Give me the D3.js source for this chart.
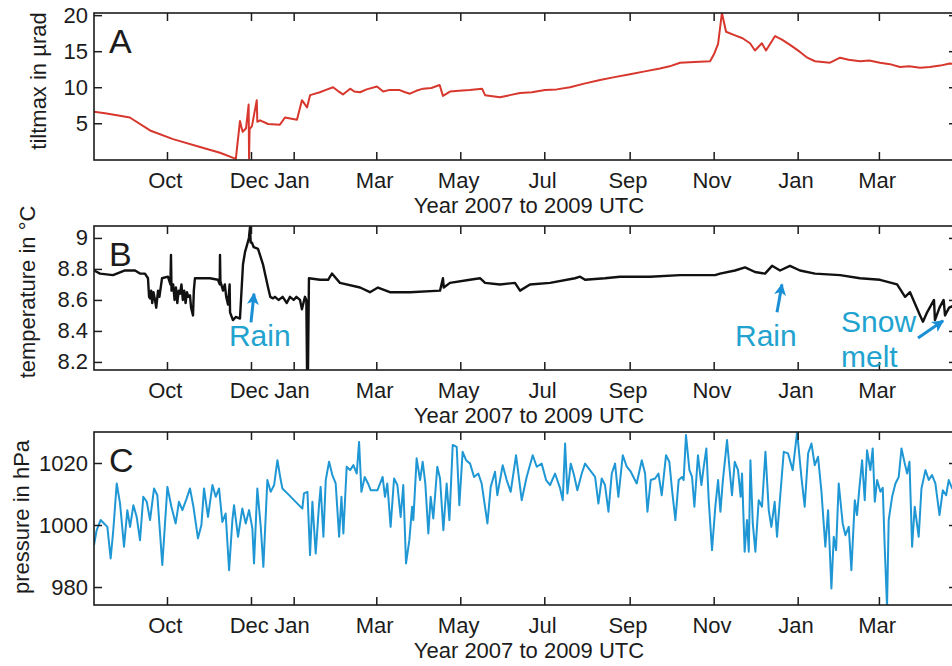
<!DOCTYPE html>
<html>
<head>
<meta charset="utf-8">
<script src="https://cdn.jsdelivr.net/npm/d3@7"></script>
<style>
  body { margin: 0; background: #fff; }
  text { font-family: "Liberation Sans", Arial, Helvetica, sans-serif; }
</style>
</head>
<body>
<svg id="chart" width="952" height="666"></svg>
<script>
// time axis: records are given in days since 2007-08-09 (UTC)
const startDate = Date.UTC(2007, 7, 9);
const endDate = Date.UTC(2009, 3, 26, 17);
const monthTicks = ["2007-10-01", "2007-12-01", "2008-01-01", "2008-03-01", "2008-05-01",
  "2008-07-01", "2008-09-01", "2008-11-01", "2009-01-01", "2009-03-01"];
const xTitle = "Year 2007 to 2009 UTC";

// A: tilt
const tiltDay = [0, 8, 16.7, 26, 40.7, 57.4, 77, 91.5, 103, 106, 107, 108, 110.4, 112.3, 112.6, 113,
  114.7, 118.2, 118.6, 120.6, 126.4, 135, 138.7, 147.4, 151, 154.7, 156.9, 164, 168, 173.6, 177, 180.8, 186,
  189, 193.2, 198, 205.5, 210, 214, 222, 226, 229.5, 234, 239, 245, 251, 253.4, 258.5, 265, 273, 281.8, 284,
  294.8, 302, 309.4, 318, 327.5, 336, 345.7, 356, 367.5, 378, 389.3, 400, 411, 418, 425.6, 436, 447.4,
  450.3, 453.2, 456, 459, 465.5, 471, 476.4, 480, 485, 488, 494.6, 499.6, 506, 512.7, 518, 523.6, 534.5,
  541.8, 548, 556.3, 563, 570.8, 578, 585.3, 592, 599.9, 607, 614.4, 621.6, 626];
const tiltValue = [6.6, 6.4, 6.1, 5.8, 4.0, 2.8, 1.7, 0.9, 0.05, 5.3, 4.5, 3.8, 4.3, 7.6, 0.1, 4.2,
  4.6, 8.2, 5.2, 5.4, 4.9, 4.8, 5.8, 5.5, 8.2, 7.2, 8.9, 9.3, 9.6, 10.0, 9.5, 9.0, 9.8,
  9.4, 9.3, 9.7, 10.1, 9.4, 9.6, 9.6, 9.3, 9.1, 9.5, 9.8, 9.9, 10.3, 8.8, 9.4, 9.5, 9.6, 9.8, 8.9,
  8.6, 8.9, 9.2, 9.3, 9.6, 9.7, 10.0, 10.5, 11.0, 11.4, 11.8, 12.2, 12.6, 12.9, 13.4, 13.5, 13.6,
  14.6, 16.0, 20.3, 17.7, 17.2, 16.8, 16.1, 15.1, 16.1, 15.1, 17.1, 16.6, 15.8, 14.9, 14.1, 13.6, 13.4,
  14.1, 13.8, 13.6, 13.7, 13.4, 13.2, 12.8, 12.9, 12.7, 12.8, 13.0, 13.3, 13.2];
const tiltTicks = [5, 10, 15, 20];
const tiltLabel = "tiltmax in µrad";

// B: temperature
const tempDay = [0, 4.4, 13.8, 22.5, 29.8, 33.4, 37, 39.2, 40, 40.7, 41.5, 42.3, 43.2, 44.3, 45.2,
  46.5, 47.5, 49.4, 53.7, 55.5, 55.9, 56.3, 57.5, 58.5, 59.5, 60.5, 61.5, 62.5, 63.5, 64.5, 65.5,
  66.5, 67.5, 68.5, 69.7, 70.5, 71.9, 72.5, 73.3, 84.2, 90, 91.3, 91.5, 91.8, 93.7, 95, 96, 97.3,
  98.5, 98.8, 100.9, 103, 106, 108.2, 109.7, 111, 112.5, 113.3, 113.8, 114.7, 116, 119.1, 122.7,
  126.4, 128, 130, 131.4, 134, 137, 140, 142.3, 145, 147, 149.6, 151, 153.2, 154.2, 154.7, 155.4,
  156.1, 164.1, 170, 172.8, 178.6, 193.2, 200.4, 206.2, 214.9, 229.5, 251.3, 253.4, 254, 258.5,
  273, 280.3, 284, 294.8, 305.7, 309.4, 316.6, 331.2, 349.3, 353, 356.6, 371, 382, 403.8, 425.6,
  451, 454.6, 465.5, 472.8, 480, 487.3, 492.4, 498.2, 505.4, 512.7, 523.6, 541.8, 556.3, 570.8,
  583.2, 589, 592.6, 599.9, 602, 605, 610, 610.7, 614, 617, 618, 621, 626];
const tempValue = [8.79, 8.77, 8.76, 8.79, 8.79, 8.77, 8.77, 8.74, 8.62, 8.61, 8.66, 8.58, 8.65, 8.60, 8.55,
  8.66, 8.62, 8.74, 8.75, 8.70, 8.89, 8.66, 8.70, 8.60, 8.68, 8.58, 8.66, 8.64, 8.70, 8.60, 8.66,
  8.58, 8.65, 8.62, 8.63, 8.55, 8.50, 8.66, 8.74, 8.74, 8.73, 8.70, 8.89, 8.72, 8.66, 8.70, 8.62, 8.57,
  8.70, 8.52, 8.47, 8.49, 8.48, 8.83, 8.91, 8.95, 9.00, 9.07, 8.97, 8.97, 8.94, 8.93, 8.83,
  8.68, 8.62, 8.61, 8.62, 8.60, 8.62, 8.58, 8.62, 8.60, 8.62, 8.60, 8.54, 8.62, 8.60, 8.15, 8.15,
  8.74, 8.73, 8.73, 8.77, 8.71, 8.68, 8.65, 8.68, 8.65, 8.65, 8.66, 8.74, 8.68, 8.71,
  8.73, 8.74, 8.71, 8.70, 8.71, 8.66, 8.70, 8.71, 8.74, 8.75, 8.73, 8.74, 8.75, 8.75, 8.76,
  8.76, 8.77, 8.79, 8.81, 8.78, 8.77, 8.82, 8.79, 8.82, 8.79, 8.77, 8.76, 8.74, 8.73,
  8.70, 8.62, 8.65, 8.50, 8.46, 8.52, 8.60, 8.47, 8.55, 8.60, 8.50, 8.55, 8.57];
const tempTicks = [8.2, 8.4, 8.6, 8.8, 9];
const tempLabel = "temperature in °C";

// C: air pressure
const pressureDay = [0, 1.9, 4.8, 7.3, 9.7, 12.1, 14, 16.5, 18.9, 21.8, 24.2, 26.2, 28.6, 31, 33.4,
  35.8, 38.3, 40.7, 43.6, 46, 49.6, 53.3, 56.2, 59.3, 61.7, 64.2, 67.3, 69.7, 72.2, 75.5, 78, 79.9,
  82.8, 86, 88.4, 90.8, 93.2, 95.6, 98.1, 100.5, 101.7, 104.6, 107.7, 110.2, 112.6, 115, 116.2,
  118.6, 121.1, 123, 125.9, 128.3, 130.8, 133.2, 135.6, 136.8, 140.4, 151.3, 152.5, 155, 156.9,
  158.6, 161, 163.4, 164.6, 166.6, 168.3, 170.7, 173.1, 175.5, 178, 179.7, 181.1, 183.5, 186,
  188.4, 190.8, 192.5, 194.2, 196.6, 199, 201, 205.8, 209.6, 211.3, 213, 215.4, 217.9, 220.3,
  222.7, 224.6, 226.6, 229, 231, 231.9, 234.3, 236.8, 238.7, 240.6, 242.8, 244.5, 246.4, 249.3,
  251.3, 253.7, 256.1, 258.1, 260.5, 263.4, 265.3, 267.7, 270.2, 273.1, 276, 279.1, 281.5, 285.7,
  288.1, 291.2, 292.9, 296.8, 299.7, 302.6, 306.5, 308.2, 310.6, 314.2, 318.6, 321.5, 325.1,
  328.3, 331.2, 334.8, 338.5, 340.4, 342.1, 343.8, 346.2, 348.6, 351, 354.2, 356.6, 360.2, 363.9,
  366.3, 368.7, 371.1, 373.6, 376, 378.4, 380.8, 384, 386.9, 389.8, 394.1, 397.8, 400.2, 401.9,
  404.3, 407.5, 409.9, 412.3, 415.4, 417.8, 419.8, 422.2, 424.6, 427, 428.2, 429.9, 432.4, 434.3,
  436, 438.6, 441.1, 442.8, 444.7, 446.4, 448.8, 451.2, 453.2, 454.9, 456.6, 459.7, 461.4, 463.3,
  465.3, 467.7, 469.6, 470.6, 472.5, 474.2, 475.5, 476.7, 478.4, 480.3, 482.7, 485.1, 487.6, 490,
  491.9, 494.3, 496, 497.7, 500.9, 504, 507.4, 510.6, 513.7, 516.1, 518.6, 521, 523.4, 525.8,
  528.2, 531.1, 533.1, 535.5, 537.2, 538.9, 540.8, 543.7, 545.7, 548.1, 550, 552.5, 554.1, 555.8,
  557.8, 559.7, 561.4, 563.8, 565.5, 567, 568.7, 571.1, 572.8, 574.2, 575.9, 577.1, 579.6, 582,
  584.4, 586.4, 588.8, 590.5, 592.2, 594.1, 596, 598.9, 600.9, 603.8, 606.2, 608.6, 611, 614,
  616.4, 618.8, 620.7, 623.2, 626];
const pressureValue = [993.5, 998.3, 1001.6, 1000.5, 999.4, 989.2, 998.3, 1013.4, 1007, 993, 1004.8,
  999.4, 1006.4, 1002.6, 995.1, 1009.1, 1007.5, 1001.6, 1011.8, 1009.6, 987.1, 1012.3, 1005.9, 1000.5,
  1007.5, 1004.8, 1008.6, 1011.8, 1005.9, 995.7, 1000, 1011.8, 1002.6, 1012.9, 1009.1, 1011.8, 1001,
  1003.7, 985.4, 1001.6, 1006.4, 996.2, 1005.3, 1000.5, 1004.8, 998.9, 987.6, 1011.8, 999.4, 986.5,
  1014.5, 1010.7, 1012.9, 1020.9, 1014.5, 1011.8, 1010.2, 1005.3, 1010.2, 1010.7, 990.3, 1007.5,
  990.8, 1006.4, 1012.3, 996.2, 1014.5, 1020.4, 1016.1, 1013.4, 996.2, 1009.1, 997.3, 1018.8, 1017.7,
  1019.3, 1016.6, 1026.8, 1010.7, 1015.5, 1013.4, 1011.2, 1011.2, 1015.5, 1009.1, 1013.4, 999.4, 1015,
  1012.9, 1002.6, 1012.9, 987.6, 995.1, 1005.9, 1001.6, 1021.5, 1014.5, 1020.4, 1013.4, 997.3, 1009.1,
  1002.1, 1018.8, 1015, 998.3, 1013.4, 1001.6, 1025.8, 1025.2, 1006.4, 1023.6, 1020.9, 1019.8, 1015.5,
  1016.6, 1013.4, 1000.5, 1012.3, 1017.2, 1009.6, 1019.3, 1014.5, 1010.7, 1022.5, 1016.6, 1008,
  1015.5, 1022.5, 1018.8, 1019.8, 1014.5, 1012.9, 1016.6, 1011.8, 1008, 1026.3, 1010.2, 1019.8,
  1016.1, 1011.2, 1016.6, 1019.8, 1017.7, 1015.5, 1006.9, 1015, 1012.9, 1004.3, 1016.6, 1019.8,
  1009.1, 1022.5, 1018.8, 1017.2, 1013.4, 1020.9, 1016.6, 1004.3, 1014.5, 1015, 1016.6, 1009.6,
  1022.5, 1020.4, 1011.2, 1001.6, 1014.5, 1015.5, 1014.5, 1029, 1017.7, 1015.5, 1005.9, 1022.5,
  1012.9, 1018.8, 1024.7, 1008, 991.9, 1005.9, 1014.5, 1004.3, 1013.9, 1027.4, 1018.8, 1009.6,
  1020.4, 1017.7, 1009.1, 1016.6, 991.4, 1001.6, 991.4, 1020.9, 1000.5, 991.4, 1008, 1005.9, 1023.6,
  1004.8, 999.4, 1007.5, 996.2, 1005.9, 1023.6, 1023.1, 1017.7, 1030, 1015.5, 1005.9, 1023.1, 1026.3,
  1019.3, 1022, 1011.2, 993, 1004.8, 979.5, 996.2, 991.9, 1013.4, 1000.5, 996.7, 999.4, 985.4, 1008,
  1003.2, 1011.8, 1020.9, 1008, 1024.1, 1017.7, 1024.7, 1007.5, 1014.5, 1010.7, 1012, 993, 973.6,
  1001.6, 1009.1, 1013.4, 1015.5, 1024.7, 1019.8, 1016.6, 1020.4, 993, 1005.9, 996.2, 1011.8, 1017.7,
  1014.5, 1016.1, 1013.4, 1003.2, 1011.2, 1009.6, 1014.5, 1011.8, 1013];
const pressureTicks = [980, 1000, 1020];
const pressureLabel = "pressure in hPa";

// annotations on panel B (day, temperature)
const noteText = ["Rain", "Rain", "Snow", "melt"];
const noteDay = [98, 465.5, 542.5, 542.5];
const noteValue = [8.30, 8.30, 8.39, 8.17];
const arrowFromDay = [114, 496, 598.4];
const arrowFromValue = [8.455, 8.52, 8.355];
const arrowToDay = [116.2, 499.6, 616.6];
const arrowToValue = [8.64, 8.70, 8.465];

const toDate = d => new Date(startDate + d * 864e5);

const svg = d3.select("#chart");
const left = 94, right = 957;
const fontSize = 22;
const ink = "#1c1c1c";

const x = d3.scaleUtc()
    .domain([new Date(startDate), new Date(endDate)])
    .range([left, right]);
const tickDates = monthTicks.map(s => new Date(s + "T00:00:00Z"));

const panels = [
    { id: "A", day: tiltDay, value: tiltValue, ticks: tiltTicks, label: tiltLabel,
      domain: [-0.1, 20.3], top: 13, bottom: 160, color: "#d7372d", width: 2, labelX: 46, labelY: 81 },
    { id: "B", day: tempDay, value: tempValue, ticks: tempTicks, label: tempLabel,
      domain: [8.148, 9.077], top: 226, bottom: 370, color: "#111", width: 2.4, labelX: 35, labelY: 292 },
    { id: "C", day: pressureDay, value: pressureValue, ticks: pressureTicks, label: pressureLabel,
      domain: [974.2, 1030], top: 432, bottom: 605, color: "#1f97d4", width: 2, labelX: 29, labelY: 517 }
];

svg.append("defs").append("marker")
    .attr("id", "head")
    .attr("viewBox", "0 0 10 10")
    .attr("refX", 9).attr("refY", 5)
    .attr("markerUnits", "userSpaceOnUse")
    .attr("markerWidth", 12).attr("markerHeight", 12)
    .attr("orient", "auto")
  .append("path")
    .attr("d", "M0,0 L10,5 L0,10 L2.5,5 z")
    .attr("fill", "#1a8fd6");

panels.forEach(p => {
    const y = d3.scaleLinear().domain(p.domain).range([p.bottom, p.top]);
    p.y = y;
    const g = svg.append("g");

    g.append("clipPath").attr("id", "clip" + p.id)
      .append("rect")
        .attr("x", left).attr("y", p.top)
        .attr("width", right - left).attr("height", p.bottom - p.top);

    const line = d3.line()
        .x((d, i) => x(toDate(d)))
        .y((d, i) => y(p.value[i]));

    g.append("path")
        .datum(p.day)
        .attr("clip-path", `url(#clip${p.id})`)
        .attr("fill", "none")
        .attr("stroke", p.color)
        .attr("stroke-width", p.width)
        .attr("stroke-linejoin", "round")
        .attr("d", line);

    // bottom axis with labels, ticks pointing inward
    g.append("g")
        .attr("transform", `translate(0,${p.bottom})`)
        .call(d3.axisBottom(x).tickValues(tickDates).tickFormat(d3.utcFormat("%b"))
            .tickSizeInner(-8).tickSizeOuter(0).tickPadding(12))
        .call(a => a.select(".domain").remove())
        .call(a => a.selectAll("line").attr("stroke", ink).attr("stroke-width", 1.5))
        .call(a => a.selectAll("text").attr("font-size", fontSize).attr("fill", ink)
            .attr("font-family", "Liberation Sans, Arial, sans-serif").attr("dx", "-0.1em"));

    g.append("g")
        .attr("transform", `translate(0,${p.top})`)
        .call(d3.axisTop(x).tickValues(tickDates).tickFormat("").tickSizeInner(-8).tickSizeOuter(0))
        .call(a => a.select(".domain").remove())
        .call(a => a.selectAll("line").attr("stroke", ink).attr("stroke-width", 1.5));

    g.append("g")
        .attr("transform", `translate(${left},0)`)
        .call(d3.axisLeft(y).tickValues(p.ticks).tickFormat(d3.format("~g"))
            .tickSizeInner(-8).tickSizeOuter(0).tickPadding(6))
        .call(a => a.select(".domain").remove())
        .call(a => a.selectAll("line").attr("stroke", ink).attr("stroke-width", 1.5))
        .call(a => a.selectAll("text").attr("font-size", fontSize).attr("fill", ink)
            .attr("font-family", "Liberation Sans, Arial, sans-serif"));

    g.append("g")
        .attr("transform", `translate(${right},0)`)
        .call(d3.axisRight(y).tickValues(p.ticks).tickFormat("").tickSizeInner(-8).tickSizeOuter(0))
        .call(a => a.select(".domain").remove())
        .call(a => a.selectAll("line").attr("stroke", ink).attr("stroke-width", 1.5));

    g.append("rect")
        .attr("x", left).attr("y", p.top)
        .attr("width", right - left).attr("height", p.bottom - p.top)
        .attr("fill", "none").attr("stroke", ink).attr("stroke-width", 1.6);

    g.append("text")
        .attr("x", left + 15).attr("y", p.top + 40)
        .attr("font-size", 34).attr("fill", ink)
        .text(p.id);

    g.append("text")
        .attr("transform", `translate(${p.labelX},${p.labelY}) rotate(-90)`)
        .attr("text-anchor", "middle")
        .attr("font-size", fontSize).attr("fill", ink)
        .text(p.label);

    g.append("text")
        .attr("x", 529).attr("y", p.bottom + 53)
        .attr("text-anchor", "middle")
        .attr("font-size", fontSize).attr("fill", ink)
        .text(xTitle);
});

// annotations on the temperature panel
const yB = panels[1].y;
svg.append("g").selectAll("text")
    .data(noteText)
    .join("text")
      .attr("x", (d, i) => x(toDate(noteDay[i])))
      .attr("y", (d, i) => yB(noteValue[i]))
      .attr("font-size", 30)
      .attr("fill", "#22a3cf")
      .text(d => d);

svg.append("g").selectAll("line")
    .data(arrowFromDay)
    .join("line")
      .attr("x1", (d, i) => x(toDate(d)))
      .attr("y1", (d, i) => yB(arrowFromValue[i]))
      .attr("x2", (d, i) => x(toDate(arrowToDay[i])))
      .attr("y2", (d, i) => yB(arrowToValue[i]))
      .attr("stroke", "#1a8fd6")
      .attr("stroke-width", 3)
      .attr("marker-end", "url(#head)");
</script>
</body>
</html>
